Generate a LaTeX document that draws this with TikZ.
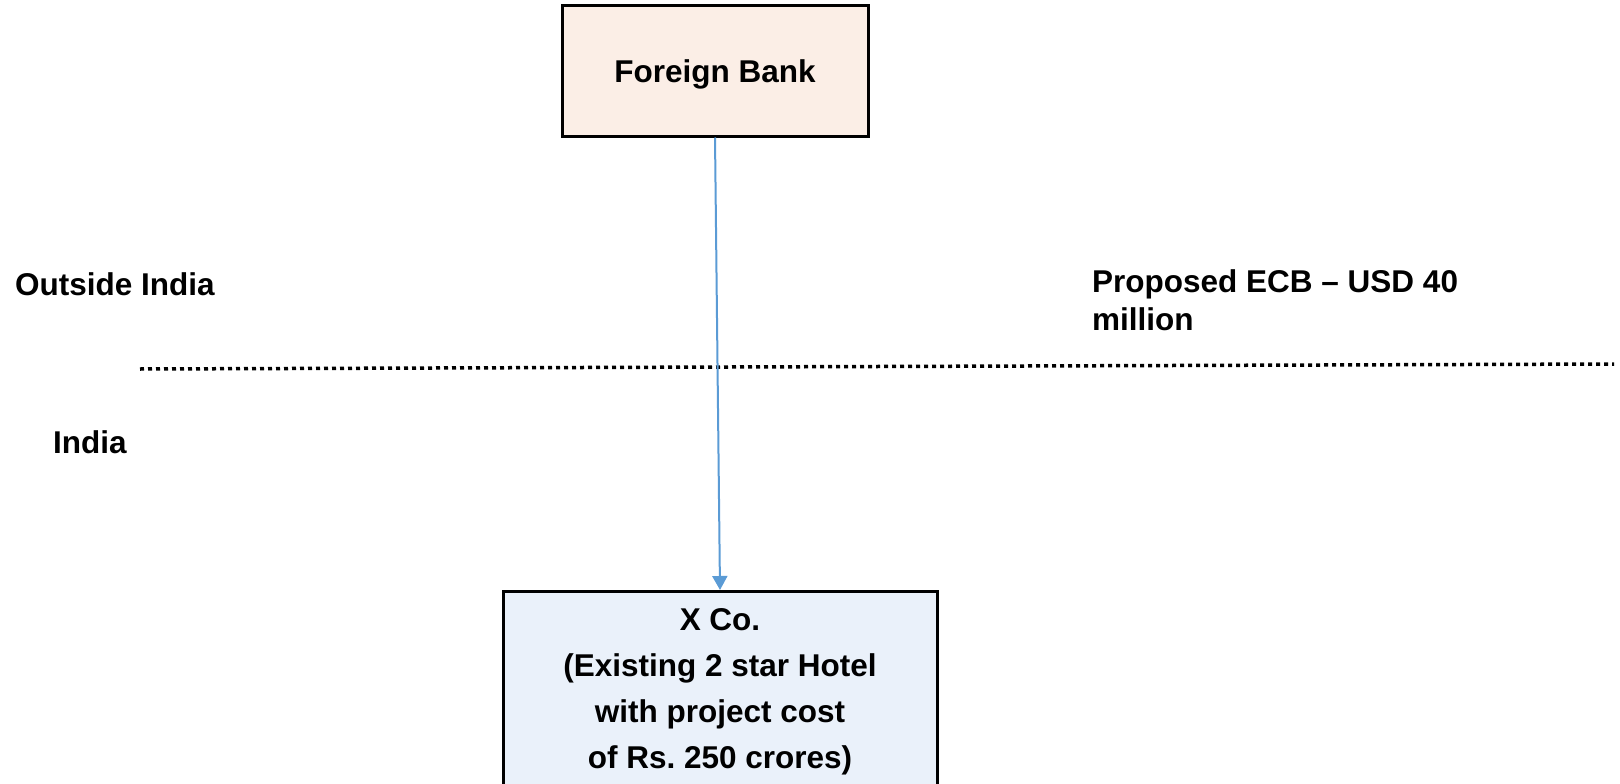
\documentclass[tikz,border=0pt]{standalone}
\usepackage{fontspec}
\setmainfont{Liberation Sans}
\usetikzlibrary{arrows.meta}
\definecolor{bankfill}{HTML}{FBEEE6}
\definecolor{cofill}{HTML}{EAF1FA}
\definecolor{arrowblue}{HTML}{5B9BD5}
\frenchspacing
\begin{document}
\begin{tikzpicture}[x=1pt,y=-1pt,
  every node/.style={font=\bfseries\fontsize{31.5}{38}\selectfont, text=black},
  box/.style={draw=black, line width=3pt},
  lbl/.style={anchor=base west, inner sep=0pt},
  border/.style={line width=3.5pt, dash pattern=on 4pt off 4pt},
  flow/.style={draw=arrowblue, line width=2pt, -{Triangle[length=14pt,width=15pt]}}]
\useasboundingbox (0,0) rectangle (1620,784);
\clip (0,0) rectangle (1620,784);
\node[box, fill=bankfill, minimum width=306pt, minimum height=130pt, inner sep=0pt, text depth=0pt] (bank) at (715,71) {Foreign Bank};
\node[box, fill=cofill, minimum width=434pt, anchor=north, align=center, inner ysep=17pt,
      font=\bfseries\fontsize{31.5}{46}\selectfont] (xco) at (720,590)
  {X Co.\\(Existing 2 star Hotel\\with project cost\\ of Rs. 250 crores)};
\coordinate (bl) at (140,369);
\coordinate (br) at (1614,364);
\draw[border] (bl) -- (br);
\draw[flow] (bank.south) -- (xco.north);
\node[lbl] (outside) at (15,295) {Outside India};
\node[lbl] (india) at (53,453) {India};
\node[anchor=north west, inner sep=0pt, align=left] (ecb) at (1092,269) {Proposed ECB -- USD 40\\million};
\end{tikzpicture}
\end{document}
